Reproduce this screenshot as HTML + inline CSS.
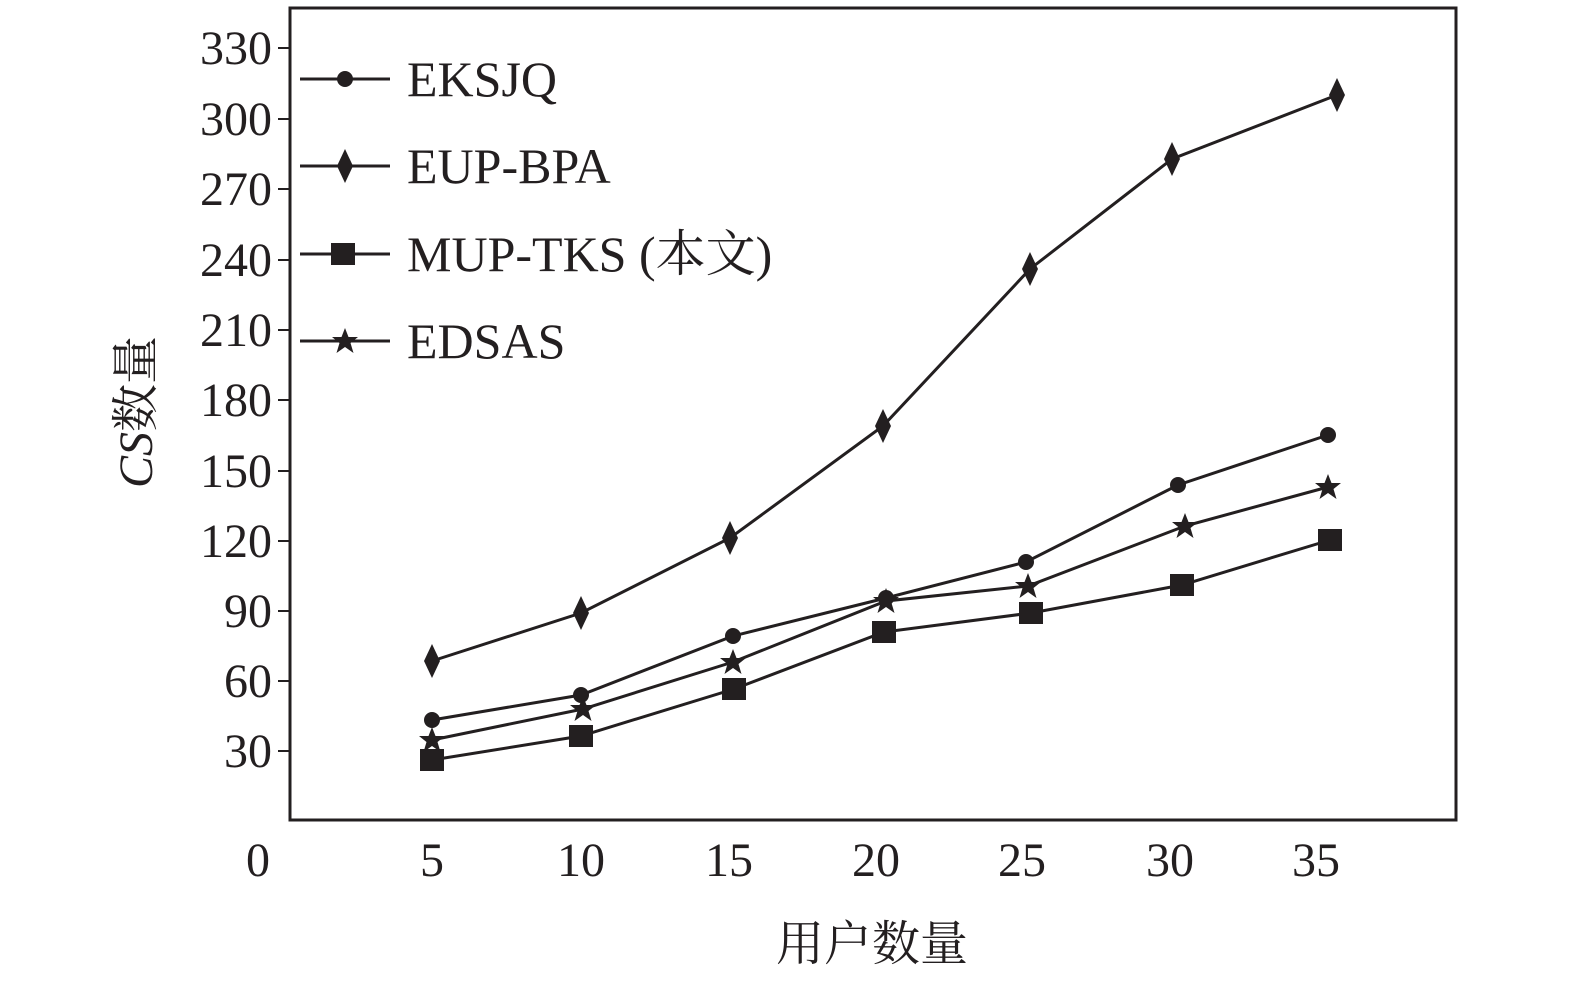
<!DOCTYPE html>
<html><head><meta charset="utf-8"><style>
html,body{margin:0;padding:0;background:#fff;}
svg text{font-family:"Liberation Serif","Noto Serif CJK SC",serif;fill:#231f20;}
</style></head><body>
<svg width="1575" height="984" viewBox="0 0 1575 984" xmlns="http://www.w3.org/2000/svg">
<defs>
<g id="dia"><polygon points="0,-17 8,0 0,17 -8,0" fill="#231f20"/></g>
<g id="sq"><rect x="-12" y="-11" width="24" height="22" fill="#231f20"/></g>
<g id="ci"><circle r="8" fill="#231f20"/></g>
<g id="st"><polygon points="0,-13 3.5,-4 13,-4 5.5,2 8.5,12 0,6 -8.5,12 -5.5,2 -13,-4 -3.5,-4" fill="#231f20"/></g>
</defs>
<rect x="290" y="8" width="1166" height="812" fill="none" stroke="#231f20" stroke-width="3"/>
<g stroke="#231f20" stroke-width="2">
<line x1="278" y1="48" x2="290" y2="48"/><line x1="278" y1="119" x2="290" y2="119"/><line x1="278" y1="189" x2="290" y2="189"/><line x1="278" y1="260" x2="290" y2="260"/><line x1="278" y1="330" x2="290" y2="330"/><line x1="278" y1="400" x2="290" y2="400"/><line x1="278" y1="471" x2="290" y2="471"/><line x1="278" y1="541" x2="290" y2="541"/><line x1="278" y1="611" x2="290" y2="611"/><line x1="278" y1="681" x2="290" y2="681"/><line x1="278" y1="751" x2="290" y2="751"/>
</g>
<g font-size="48" text-anchor="end">
<text x="272" y="64">330</text><text x="272" y="135">300</text><text x="272" y="205">270</text><text x="272" y="276">240</text><text x="272" y="346">210</text><text x="272" y="416">180</text><text x="272" y="487">150</text><text x="272" y="557">120</text><text x="272" y="627">90</text><text x="272" y="697">60</text><text x="272" y="767">30</text>
</g>
<g font-size="48" text-anchor="middle">
<text x="258" y="876">0</text><text x="432" y="876">5</text><text x="581" y="876">10</text><text x="729" y="876">15</text><text x="876" y="876">20</text><text x="1022" y="876">25</text><text x="1170" y="876">30</text><text x="1316" y="876">35</text>
</g>
<text x="872" y="960" font-size="48" text-anchor="middle">用户数量</text>
<text transform="translate(152,412) rotate(-90)" font-size="48" text-anchor="middle"><tspan font-style="italic">CS</tspan>数量</text>
<g fill="none" stroke="#231f20" stroke-width="3">
<polyline points="432,720 581,695 733,636 886,598 1026,562 1178,485 1328,435"/>
<polyline points="432,661 581,613 730,538 883,426 1030,269 1172,159 1337,95"/>
<polyline points="432,760 581,736 734,689 884,632 1031,613 1182,585 1330,540"/>
<polyline points="432,740 583,709 733,662 886,601 1028,586 1185,526 1328,487"/>
<line x1="300" y1="79" x2="390" y2="79"/><line x1="300" y1="166" x2="390" y2="166"/><line x1="300" y1="254" x2="390" y2="254"/><line x1="300" y1="341" x2="390" y2="341"/>
</g>
<g>
<use href="#ci" x="432" y="720"/><use href="#ci" x="581" y="695"/><use href="#ci" x="733" y="636"/><use href="#ci" x="886" y="598"/><use href="#ci" x="1026" y="562"/><use href="#ci" x="1178" y="485"/><use href="#ci" x="1328" y="435"/>
<use href="#dia" x="432" y="661"/><use href="#dia" x="581" y="613"/><use href="#dia" x="730" y="538"/><use href="#dia" x="883" y="426"/><use href="#dia" x="1030" y="269"/><use href="#dia" x="1172" y="159"/><use href="#dia" x="1337" y="95"/>
<use href="#sq" x="432" y="760"/><use href="#sq" x="581" y="736"/><use href="#sq" x="734" y="689"/><use href="#sq" x="884" y="632"/><use href="#sq" x="1031" y="613"/><use href="#sq" x="1182" y="585"/><use href="#sq" x="1330" y="540"/>
<use href="#st" x="432" y="740"/><use href="#st" x="583" y="709"/><use href="#st" x="733" y="662"/><use href="#st" x="886" y="601"/><use href="#st" x="1028" y="586"/><use href="#st" x="1185" y="526"/><use href="#st" x="1328" y="487"/>
<use href="#ci" x="345" y="79"/><use href="#dia" x="345" y="166"/><use href="#sq" x="343" y="254"/><use href="#st" x="345" y="341"/>
</g>
<g font-size="50">
<text x="407" y="96">EKSJQ</text><text x="407" y="183">EUP-BPA</text><text x="407" y="271">MUP-TKS (本文)</text><text x="407" y="358">EDSAS</text>
</g>
</svg>
</body></html>
